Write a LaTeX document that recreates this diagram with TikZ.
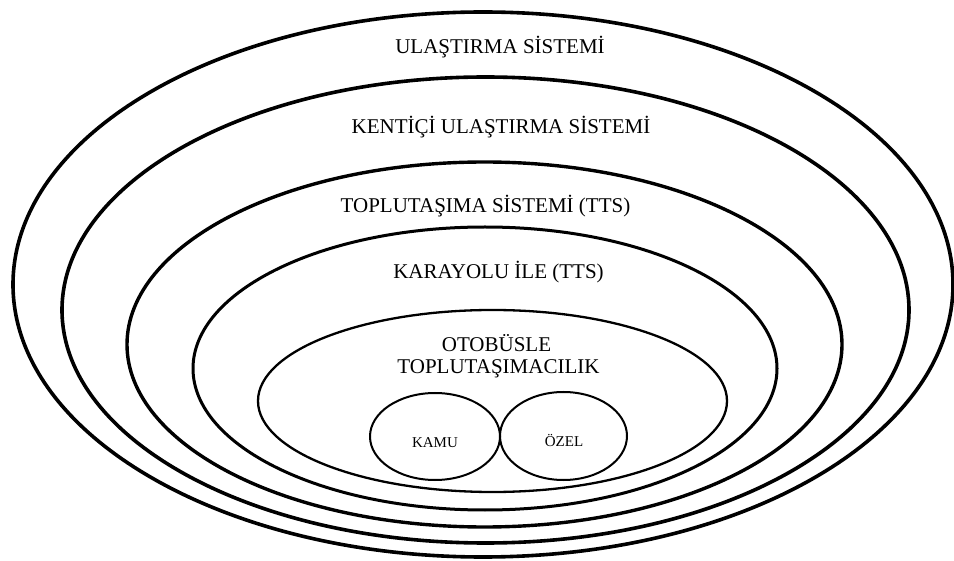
\documentclass[tikz,border=0pt]{standalone}
\usepackage{fontspec}
\setmainfont{Liberation Serif}
\usetikzlibrary{shapes.geometric}
\tikzset{
  ring/.style={draw=black, ellipse, inner sep=0pt, outer sep=0pt},
  big/.style={font=\fontsize{21}{24}\selectfont, inner sep=0pt},
  small/.style={font=\fontsize{15}{17}\selectfont, inner sep=0pt},
}
\begin{document}
\begin{tikzpicture}[x=1pt,y=-1pt]
\useasboundingbox (0,0) rectangle (954,561);
\fill[white] (0,0) rectangle (954,561);
% nested ellipses
\node[ring, line width=3.6pt, minimum width=940pt, minimum height=545pt] (e1) at (483,284.5) {};
\node[ring, line width=3.6pt, minimum width=847pt, minimum height=466pt] (e2) at (485.5,310) {};
\node[ring, line width=3.4pt, minimum width=715pt, minimum height=365pt] (e3) at (484.5,344.5) {};
\node[ring, line width=3pt, minimum width=584pt, minimum height=283pt] (e4) at (485,368.5) {};
\node[ring, line width=2.3pt, minimum width=469pt, minimum height=182pt] (e5) at (492.5,401) {};
\node[ring, line width=2pt, minimum width=130pt, minimum height=87pt] (kamu) at (435,436.5) {};
\node[ring, line width=2pt, minimum width=127pt, minimum height=88pt] (ozel) at (563.5,436) {};
% labels
\node[big] (t1) at (500,47) {ULAŞTIRMA SİSTEMİ};
\node[big] (t2) at (501,127) {KENTİÇİ ULAŞTIRMA SİSTEMİ};
\node[big] (t3) at (485.5,206) {TOPLUTAŞIMA SİSTEMİ (TTS)};
\node[big] (t4) at (498.5,272) {KARAYOLU İLE (TTS)};
\node[big] (t5) at (496.5,343) {OTOBÜSLE};
\node[big] (t6) at (498.5,369) {TOPLUTAŞIMACILIK};
\node[small] (tk) at (435,443) {KAMU};
\node[small] (to) at (564,440) {ÖZEL};
\end{tikzpicture}
\end{document}
